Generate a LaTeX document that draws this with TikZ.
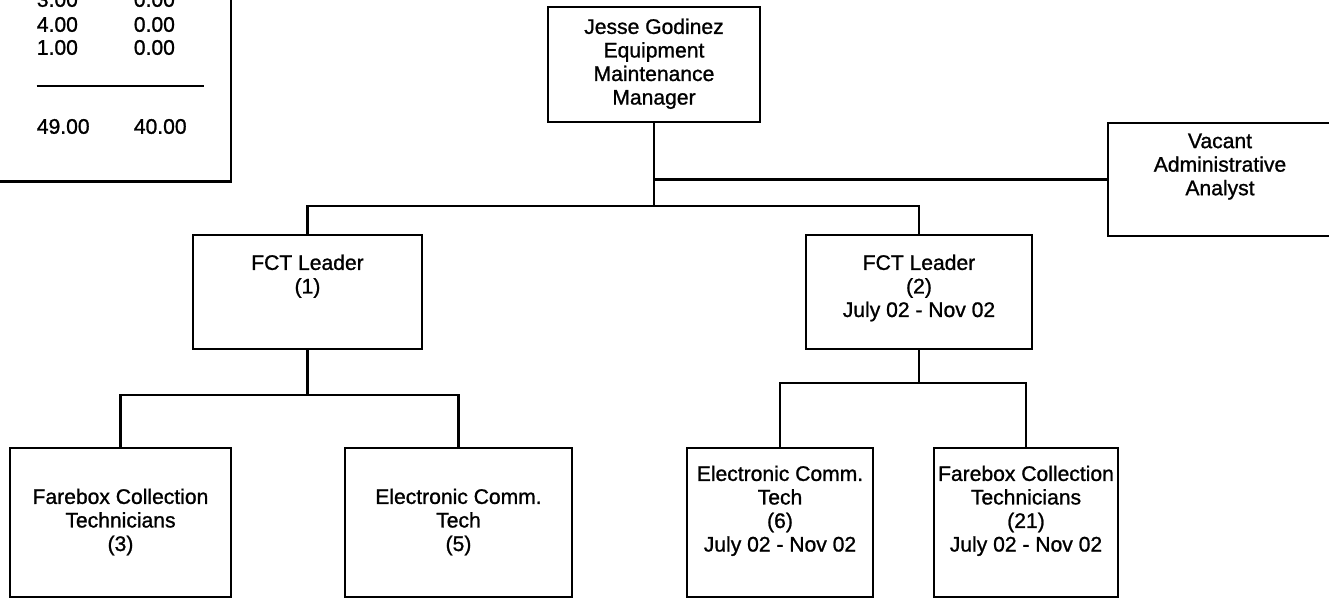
\documentclass[tikz,border=0pt]{standalone}
\usepackage{fontspec}
\setmainfont{Liberation Sans}[BoldFont=Liberation Sans, BoldFeatures={FakeBold=1.1}]
\usetikzlibrary{positioning}
\tikzset{
  orgbox/.style={draw, line width=1.4pt, inner sep=0pt},
  orgtext/.style={align=center, inner sep=0pt},
  orgline/.style={line width=1.4pt},
  ftecell/.style={anchor=west, inner sep=0pt}
}

\begin{document}
\begin{tikzpicture}[every node/.style={font=\fontsize{12}{13.4}\selectfont\bfseries}]
  \useasboundingbox (0,0) rectangle (26.58,-11.96);
  \clip (0,0) rectangle (26.58,-11.96);
  % staffing table, cut off by the page edge
  \draw[orgline] (-0.3,-3.63) -- (4.62,-3.63) -- (4.62,0.3);
  \foreach \r/\y/\a/\b in {1/0.01/3.00/0.00, 2/-0.49/4.00/0.00, 3/-0.95/1.00/0.00}{
    \node[ftecell] (fte\r a) at (0.73,\y) {\a};
    \node[ftecell] (fte\r b) at (2.67,\y) {\b};
  }
  \draw[orgline] (0.73,-1.72) -- (4.08,-1.72);
  \node[ftecell] (totala) at (0.73,-2.53) {49.00};
  \node[ftecell] (totalb) at (2.67,-2.53) {40.00};
  % manager and analyst
  \node[orgbox, minimum width=4.24cm, minimum height=2.30cm] (mgr) at (13.08,-1.29) {};
  \node[orgtext, below=0.25cm of mgr.north] (mgr-t) {Jesse Godinez\\Equipment\\Maintenance\\Manager};
  \node[orgbox, minimum width=4.48cm, minimum height=2.26cm] (vac) at (24.40,-3.59) {};
  \node[orgtext, below=0.23cm of vac.north] (vac-t) {Vacant\\Administrative\\Analyst};
  % leaders
  \node[orgbox, minimum width=4.58cm, minimum height=2.28cm] (fct1) at (6.15,-5.84) {};
  \node[orgtext, below=0.41cm of fct1.north] (fct1-t) {FCT Leader\\(1)};
  \node[orgbox, minimum width=4.52cm, minimum height=2.28cm] (fct2) at (18.38,-5.84) {};
  \node[orgtext, below=0.41cm of fct2.north] (fct2-t) {FCT Leader\\(2)\\July 02 - Nov 02};
  % technicians
  \node[orgbox, minimum width=4.42cm, minimum height=2.98cm] (fbc1) at (2.41,-10.45) {};
  \node[orgtext, below=0.83cm of fbc1.north] (fbc1-t) {Farebox Collection\\Technicians\\(3)};
  \node[orgbox, minimum width=4.54cm, minimum height=2.98cm] (ect1) at (9.17,-10.45) {};
  \node[orgtext, below=0.83cm of ect1.north] (ect1-t) {Electronic Comm.\\Tech\\(5)};
  \node[orgbox, minimum width=3.72cm, minimum height=2.98cm] (ect2) at (15.60,-10.45) {};
  \node[orgtext, below=0.37cm of ect2.north] (ect2-t) {Electronic Comm.\\Tech\\(6)\\July 02 - Nov 02};
  \node[orgbox, minimum width=3.68cm, minimum height=2.98cm] (fbc2) at (20.52,-10.45) {};
  \node[orgtext, below=0.37cm of fbc2.north] (fbc2-t) {Farebox Collection\\Technicians\\(21)\\July 02 - Nov 02};
  % connectors
  \coordinate (hub) at (mgr.south |- 0,-4.12);
  \draw[orgline] (mgr.south) -- (hub);
  \draw[orgline] (mgr.south |- vac.west) -- (vac.west);
  \draw[orgline] (fct1.north) |- (hub) -| (fct2.north);
  \coordinate (lsplit) at (fct1.south |- 0,-7.90);
  \draw[orgline] (fct1.south) -- (lsplit);
  \draw[orgline] (fbc1.north) |- (lsplit) -| (ect1.north);
  \coordinate (rsplit) at (fct2.south |- 0,-7.66);
  \draw[orgline] (fct2.south) -- (rsplit);
  \draw[orgline] (ect2.north) |- (rsplit) -| (fbc2.north);
\end{tikzpicture}
\end{document}
